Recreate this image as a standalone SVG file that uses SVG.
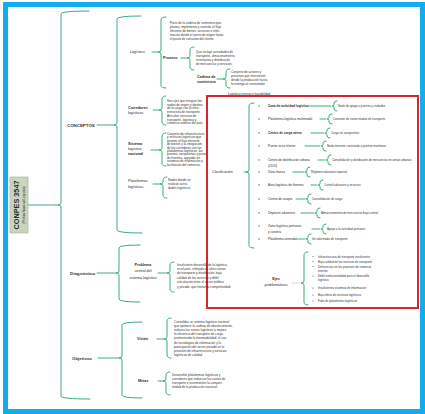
<svg xmlns="http://www.w3.org/2000/svg" width="425" height="414" viewBox="0 0 425 414">
  <style>
    text { font-family: "Liberation Sans", Arial, sans-serif; fill: #2b2b2b; }
    .br { fill: none; stroke: #3aad78; stroke-width: 1; stroke-linecap: round; }
    .l1 { font-size: 4.4px; font-weight: bold; fill: #333; }
    .l2 { font-size: 3.7px; }
    .b { font-weight: bold; }
    .p { font-size: 3.1px; fill: #333; }
    .it { font-size: 3.2px; }
    .d { font-size: 2.9px; fill: #333; }
    .dot { fill: #555; }
  </style>

  <!-- page frame -->
  <rect x="0" y="0" width="425" height="414" fill="#ffffff"/>
  <rect x="5.5" y="4.5" width="417" height="407" fill="#ffffff" stroke="#12adef" stroke-width="5"/>

  <!-- connectors -->
  <g id="connectors">
    <path class="br" d="M28 205 H58"/>
    <path class="br" d="M89 11 Q61 11 61 14 V203 Q61 205 58 205 Q61 205 61 207 V396 Q61 399 90 399"/>
    <!-- first level -->
    <path class="br" d="M97 125 H114"/>
    <path class="br" d="M141 16 Q117 16 117 19 V123 Q117 125 114 125 Q117 125 117 127 V230 Q117 233 142 233"/>
    <path class="br" d="M97 273 H116"/>
    <path class="br" d="M140 245 Q119 245 119 248 V271 Q119 273 116 273 Q119 273 119 275 V299 Q119 302 140 302"/>
    <path class="br" d="M98 358 H119"/>
    <path class="br" d="M142 322 Q122 322 122 325 V356 Q122 358 119 358 Q122 358 122 360 V395 Q122 398 142 398"/>
    <!-- concepts -->
    <path class="br" d="M152 52 H158"/>
    <path class="br" d="M166 17 Q161 17 161 20 V50 Q161 52 158 52 Q161 52 161 54 V85 Q161 88 166 88"/>
    <path class="br" d="M181 58 H187"/>
    <path class="br" d="M194 47 Q190 47 190 50 V56 Q190 58 187 58 Q190 58 190 60 V67 Q190 70 194 70"/>
    <path class="br" d="M217 79 H223"/>
    <path class="br" d="M230 69 Q226 69 226 72 V77 Q226 79 223 79 Q226 79 226 81 V85 Q226 88 230 88"/>
    <path class="br" d="M153 110 H159"/>
    <path class="br" d="M166 96 Q162 96 162 99 V108 Q162 110 159 110 Q162 110 162 112 V122 Q162 125 166 125"/>
    <path class="br" d="M151 150 H159"/>
    <path class="br" d="M166 133 Q162 133 162 136 V148 Q162 150 159 150 Q162 150 162 152 V163 Q162 166 166 166"/>
    <path class="br" d="M153 184 H160"/>
    <path class="br" d="M167 177 Q163 177 163 180 V182 Q163 184 160 184 Q163 184 163 186 V195 Q163 198 167 198"/>
    <!-- classification -->
    <path class="br" d="M244 172 H246"/>
    <path class="br" d="M254 103 Q249 103 249 106 V170 Q249 172 246 172 Q249 172 249 174 V245 Q249 248 254 248"/>
    <path class="br" d="M310 106 H331 M337 101 Q334 101 334 103 V104.5 Q334 106 332 106 Q334 106 334 107.5 V109 Q334 111 337 111"/>
    <path class="br" d="M320 119 H326 M332 114 Q329 114 329 116 V117.5 Q329 119 327 119 Q329 119 329 120.5 V122 Q329 124 332 124"/>
    <path class="br" d="M311 133 H324 M330 128 Q327 128 327 130 V131.5 Q327 133 325 133 Q327 133 327 134.5 V136 Q327 138 330 138"/>
    <path class="br" d="M305 146 H320 M326 141 Q323 141 323 143 V144.5 Q323 146 321 146 Q323 146 323 147.5 V149 Q323 151 326 151"/>
    <path class="br" d="M318 160 H325 M331 155 Q328 155 328 157 V158.5 Q328 160 326 160 Q328 160 328 161.5 V163 Q328 165 331 165"/>
    <path class="br" d="M293 172 H304 M310 167 Q307 167 307 169 V170.5 Q307 172 305 172 Q307 172 307 173.5 V175 Q307 177 310 177"/>
    <path class="br" d="M311 185 H317 M323 180 Q320 180 320 182 V183.5 Q320 185 318 185 Q320 185 320 186.5 V188 Q320 190 323 190"/>
    <path class="br" d="M296 199 H305 M311 194 Q308 194 308 196 V197.5 Q308 199 306 199 Q308 199 308 200.5 V202 Q308 204 311 204"/>
    <path class="br" d="M301 213 H314 M320 208 Q317 208 317 210 V211.5 Q317 213 315 213 Q317 213 317 214.5 V216 Q317 218 320 218"/>
    <path class="br" d="M312 229 H320 M326 224 Q323 224 323 226 V227.5 Q323 229 321 229 Q323 229 323 230.5 V232 Q323 234 326 234"/>
    <path class="br" d="M298 239 H305 M311 234 Q308 234 308 236 V237.5 Q308 239 306 239 Q308 239 308 240.5 V242 Q308 244 311 244"/>
    <!-- diagnosis -->
    <path class="br" d="M158 273 H167"/>
    <path class="br" d="M174 262 Q170 262 170 265 V271 Q170 273 167 273 Q170 273 170 275 V289 Q170 292 174 292"/>
    <path d="M292 283 H301" fill="none" stroke="#9a9a9a" stroke-width="0.6" stroke-dasharray="1 0.8"/>
    <path class="br" d="M308 252 Q304 252 304 255 V281 Q304 283 301 283 Q304 283 304 285 V302 Q304 305 308 305"/>
    <!-- objectives -->
    <path class="br" d="M157 339 H164"/>
    <path class="br" d="M171 318 Q167 318 167 321 V337 Q167 339 164 339 Q167 339 167 341 V355 Q167 358 171 358"/>
    <path class="br" d="M158 381 H163"/>
    <path class="br" d="M170 372 Q166 372 166 375 V379 Q166 381 163 381 Q166 381 166 383 V392 Q166 395 170 395"/>
  </g>

  <!-- title -->
  <g id="title">
    <rect x="10" y="177" width="18" height="56" fill="#cbd4bf" stroke="#9eae90" stroke-width="0.6"/>
    <text transform="translate(19.2,205) rotate(-90)" text-anchor="middle" font-size="7.3" font-weight="bold" fill="#28422a">CONPES 3547</text>
    <text transform="translate(25.2,205) rotate(-90)" text-anchor="middle" font-size="3" fill="#28422a">(Política Nacional Logística)</text>
  </g>

  <!-- first level -->
  <g id="conceptos"><text class="l1" x="67" y="126.5">CONCEPTOS</text></g>
  <g id="diagnostico"><text class="l1" x="70" y="274.5">Diagnóstico</text></g>
  <g id="objetivos"><text class="l1" x="72" y="359.5">Objetivos</text></g>

  <!-- logistics -->
  <g id="logistica">
    <text class="l2" x="130" y="53.3">Logística</text>
    <text class="p" x="170" y="24"><tspan x="170">Parte de la cadena de suministro que</tspan><tspan x="170" dy="3.9">planea, implementa y controla el flujo</tspan><tspan x="170" dy="3.9">eficiente de bienes, servicios e infor-</tspan><tspan x="170" dy="3.9">mación desde el punto de origen hasta</tspan><tspan x="170" dy="3.9">el punto de consumo del cliente.</tspan></text>
  </g>
  <g id="proceso">
    <text class="l2 b" x="163" y="59.3" font-size="3.5">Proceso</text>
    <text class="p" x="196" y="53"><tspan x="196">Que incluye actividades de</tspan><tspan x="196" dy="4">transporte, almacenamiento,</tspan><tspan x="196" dy="4">inventarios y distribución</tspan><tspan x="196" dy="4">de mercancías y servicios.</tspan></text>
  </g>
  <g id="cadena">
    <text class="l2 b" x="197" y="78" font-size="3.3"><tspan x="197">Cadena de</tspan><tspan x="197" dy="4.8">suministro</tspan></text>
    <text class="p" x="231" y="73"><tspan x="231">Conjunto de actores y</tspan><tspan x="231" dy="4">procesos que intervienen</tspan><tspan x="231" dy="4">desde la producción hasta</tspan><tspan x="231" dy="4">la entrega al consumidor</tspan></text>
    <text class="p" x="228" y="95">Logística inversa y trazabilidad</text>
  </g>
  <g id="corredores">
    <text class="l2" x="128" y="108.5"><tspan x="128" class="b">Corredores</tspan><tspan x="128" dy="5">logísticos</tspan></text>
    <text class="p" x="167" y="102"><tspan x="167">Son ejes que integran los</tspan><tspan x="167" dy="3.5">nodos de origen y destino</tspan><tspan x="167" dy="3.5">de la carga con la infra-</tspan><tspan x="167" dy="3.5">estructura de transporte.</tspan><tspan x="167" dy="4.5">Articulan servicios de</tspan><tspan x="167" dy="3.5">transporte, logística y</tspan><tspan x="167" dy="3.5">comercio exterior del país.</tspan></text>
  </g>
  <g id="sistema">
    <text class="l2" x="128" y="145"><tspan x="128" class="b">Sistema</tspan><tspan x="128" dy="5">logístico</tspan><tspan x="128" dy="5" class="b">nacional</tspan></text>
    <text class="p" x="167" y="135"><tspan x="167">Conjunto de infraestructura</tspan><tspan x="167" dy="3.4">y servicios logísticos que</tspan><tspan x="167" dy="3.4">permite el flujo eficiente</tspan><tspan x="167" dy="3.4">de bienes y la integración</tspan><tspan x="167" dy="3.4">de los corredores con las</tspan><tspan x="167" dy="3.4">plataformas logísticas, los</tspan><tspan x="167" dy="3.4">puertos, aeropuertos y pasos</tspan><tspan x="167" dy="3.4">de frontera, apoyado en</tspan><tspan x="167" dy="3.4">sistemas de información y</tspan><tspan x="167" dy="3.4">facilitación del comercio.</tspan></text>
  </g>
  <g id="plataformas">
    <text class="l2" x="128" y="182"><tspan x="128">Plataformas</tspan><tspan x="128" dy="5.5">logísticas</tspan></text>
    <text class="p" x="168" y="181"><tspan x="168">Nodos donde se</tspan><tspan x="168" dy="4">realizan activi-</tspan><tspan x="168" dy="4">dades logísticas</tspan></text>
  </g>

  <!-- classification -->
  <g id="clasificacion">
    <rect x="207" y="96" width="211" height="212" fill="none" stroke="#d8262e" stroke-width="2"/>
    <text class="l2" x="212" y="173.3" font-size="4">Clasificación</text>
    <g class="dot">
      <rect x="258" y="105.6" width="2" height="0.7"/><rect x="258" y="118.6" width="2" height="0.7"/>
      <rect x="258" y="132.6" width="2" height="0.7"/><rect x="258" y="145.6" width="2" height="0.7"/>
      <rect x="258" y="159.6" width="2" height="0.7"/><rect x="258" y="171.6" width="2" height="0.7"/>
      <rect x="258" y="184.6" width="2" height="0.7"/><rect x="258" y="198.6" width="2" height="0.7"/>
      <rect x="258" y="212.6" width="2" height="0.7"/><rect x="258" y="225.6" width="2" height="0.7"/>
      <rect x="258" y="238.6" width="2" height="0.7"/>
    </g>
    <text class="it b" x="268" y="107.1">Zona de actividad logística</text>
    <text class="d" x="338" y="107">Nodo de apoyo a puertos y ciudades</text>
    <text class="it" x="268" y="120.1">Plataforma logística multimodal</text>
    <text class="d" x="333" y="120">Conexión de varios modos de transporte</text>
    <text class="it b" x="268" y="134.1">Centro de carga aérea</text>
    <text class="d" x="331" y="134">Carga en aeropuertos</text>
    <text class="it" x="268" y="147.1">Puerto seco interior</text>
    <text class="d" x="327" y="147">Nodo terrestre conectado a puertos marítimos</text>
    <text class="it" x="268" y="161.1"><tspan x="268">Centro de distribución urbana</tspan><tspan x="268" dy="5.5">(CDU)</tspan></text>
    <text class="d" x="332" y="161">Consolidación y distribución de mercancías en zonas urbanas</text>
    <text class="it" x="268" y="173.1">Zona franca</text>
    <text class="d" x="311" y="173">Régimen aduanero especial</text>
    <text class="it" x="268" y="186.1">Área logística de frontera</text>
    <text class="d" x="324" y="186">Control aduanero y servicios</text>
    <text class="it" x="268" y="200.1">Centro de acopio</text>
    <text class="d" x="312" y="200">Consolidación de carga</text>
    <text class="it" x="268" y="214.1">Depósito aduanero</text>
    <text class="d" x="321" y="214">Almacenamiento de mercancías bajo control</text>
    <text class="it" x="268" y="227.1"><tspan x="268">Zona logística portuaria</tspan><tspan x="268" dy="5.5">y costera</tspan></text>
    <text class="d" x="327" y="230">Apoyo a la actividad portuaria</text>
    <text class="it" x="268" y="240.1">Plataforma unimodal</text>
    <text class="d" x="312" y="240">Un solo modo de transporte</text>
  </g>

  <!-- diagnosis -->
  <g id="problema">
    <text class="l2" x="143" y="266" text-anchor="middle" font-size="3.5"><tspan x="143" class="b">Problema</tspan><tspan x="143" dy="6.3">central del</tspan><tspan x="143" dy="6.3">sistema logístico</tspan></text>
    <text class="p" x="177" y="265.5"><tspan x="177">Insuficiente desarrollo de la logística</tspan><tspan x="177" dy="4.4">en el país, reflejado en altos costos</tspan><tspan x="177" dy="4.4">de transporte y distribución, baja</tspan><tspan x="177" dy="4.4">calidad de los servicios y débil</tspan><tspan x="177" dy="4.4">articulación entre el sector público</tspan><tspan x="177" dy="4.4">y privado, que limitan la competitividad.</tspan></text>
  </g>
  <g id="ejes">
    <text class="l2 b" x="276" y="280" text-anchor="middle" font-size="4">Ejes</text>
    <text class="l2" x="276" y="286" text-anchor="middle" font-size="3.8">problemáticos</text>
    <g class="dot">
      <circle cx="313" cy="256.5" r="0.6"/><circle cx="313" cy="261.5" r="0.6"/>
      <circle cx="313" cy="266.5" r="0.6"/><circle cx="313" cy="276" r="0.6"/>
      <circle cx="313" cy="288" r="0.6"/><circle cx="313" cy="295" r="0.6"/>
      <circle cx="313" cy="301" r="0.6"/>
    </g>
    <text class="d" x="318" y="257.5">Infraestructura de transporte insuficiente</text>
    <text class="d" x="318" y="262.5">Baja calidad de los servicios de transporte</text>
    <text class="d" x="318" y="267.5"><tspan x="318">Deficiencias en los procesos de comercio</tspan><tspan x="318" dy="4.2">exterior</tspan></text>
    <text class="d" x="318" y="277"><tspan x="318">Débil institucionalidad para el desarrollo</tspan><tspan x="318" dy="4.2">logístico</tspan></text>
    <text class="d" x="318" y="289">Insuficientes sistemas de información</text>
    <text class="d" x="318" y="296">Baja oferta de servicios logísticos</text>
    <text class="d" x="318" y="302">Falta de plataformas logísticas</text>
  </g>

  <!-- objectives -->
  <g id="vision">
    <text class="l2 b" x="137" y="340.3">Visión</text>
    <text class="p" x="174" y="323"><tspan x="174">Consolidar un sistema logístico nacional</tspan><tspan x="174" dy="4.1">que optimice la cadena de abastecimiento,</tspan><tspan x="174" dy="4.1">reduzca los costos logísticos y mejore</tspan><tspan x="174" dy="4.1">la eficiencia del transporte de carga,</tspan><tspan x="174" dy="4.1">promoviendo la intermodalidad, el uso</tspan><tspan x="174" dy="4.1">de tecnologías de información y la</tspan><tspan x="174" dy="4.1">participación del sector privado en la</tspan><tspan x="174" dy="4.1">provisión de infraestructura y servicios</tspan><tspan x="174" dy="4.1">logísticos de calidad.</tspan></text>
  </g>
  <g id="metas">
    <text class="l2 b" x="138" y="382.3">Metas</text>
    <text class="p" x="172" y="376"><tspan x="172">Desarrollar plataformas logísticas y</tspan><tspan x="172" dy="4">corredores que reduzcan los costos de</tspan><tspan x="172" dy="4">transporte e incrementen la competi-</tspan><tspan x="172" dy="4">tividad de la producción nacional.</tspan></text>
  </g>
</svg>
